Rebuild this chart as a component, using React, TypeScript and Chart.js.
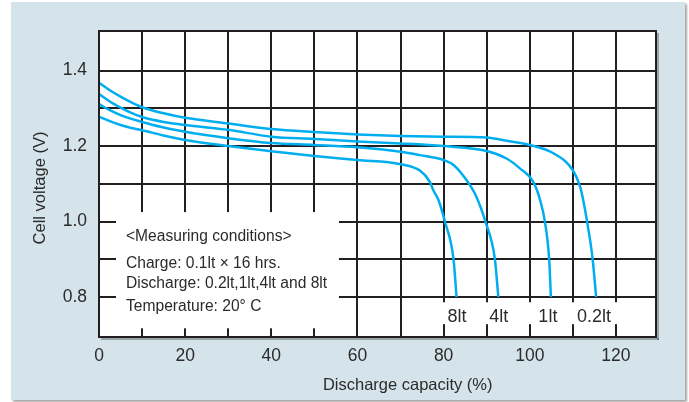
import React, { useEffect, useRef } from 'react';
import { Chart, registerables } from 'chart.js';

Chart.register(...registerables);

// ---- data ----
const seriesNames = ['0.2lt', '1lt', '4lt', '8lt'];

const x02 = [0, 2.5, 5, 7.5, 10, 15, 20, 30, 40, 50, 60, 70, 80, 90, 94.6, 100, 105.5, 110, 111.7, 112.4, 113.3, 114.6, 115.4];
const y02 = [1.368, 1.348, 1.331, 1.316, 1.303, 1.287, 1.275, 1.26, 1.245, 1.237, 1.231, 1.227, 1.225, 1.223, 1.214, 1.203, 1.181, 1.136, 1.092, 1.057, 1.0, 0.9, 0.8];

const x1 = [0, 2.5, 5, 7.5, 10, 15, 20, 30, 40, 50, 60, 70, 80, 90, 94.6, 97.7, 100.8, 102.4, 103.5, 104.5, 104.9];
const y1 = [1.338, 1.318, 1.302, 1.288, 1.277, 1.264, 1.256, 1.243, 1.225, 1.219, 1.212, 1.207, 1.2, 1.187, 1.167, 1.141, 1.105, 1.057, 1.0, 0.9, 0.8];

const x4 = [0, 2.5, 5, 7.5, 10, 15, 20, 30, 40, 50, 60, 70, 74.5, 80, 82.3, 85.3, 87.6, 89.7, 91.9, 92.7];
const y4 = [1.311, 1.295, 1.282, 1.272, 1.264, 1.249, 1.238, 1.221, 1.208, 1.203, 1.197, 1.185, 1.176, 1.163, 1.15, 1.11, 1.066, 1.0, 0.9, 0.8];

const x8 = [0, 2.5, 5, 7.5, 10, 15, 20, 30, 40, 50, 60, 70, 74.5, 76.8, 77.6, 78.8, 80.3, 82.3, 83.0];
const y8 = [1.278, 1.266, 1.256, 1.248, 1.242, 1.228, 1.216, 1.2, 1.186, 1.174, 1.163, 1.152, 1.135, 1.105, 1.083, 1.057, 1.0, 0.9, 0.8];

const seriesX = [x02, x1, x4, x8];
const seriesY = [y02, y1, y4, y8];

// curve-end labels (x position in data units)
const labelX = [114.9, 104.2, 92.8, 83.1];

const xTicks = [0, 10, 20, 30, 40, 50, 60, 70, 80, 90, 100, 110, 120];
const xTickLabels = ['0', '', '20', '', '40', '', '60', '', '80', '', '100', '', '120'];
const yTicks = [0.8, 0.9, 1.0, 1.1, 1.2, 1.3, 1.4];
const yTickLabels = ['0.8', '', '1.0', '', '1.2', '', '1.4'];

const conditionLines = [
  '<Measuring conditions>',
  'Charge: 0.1lt \u00d7 16 hrs.',
  'Discharge: 0.2lt,1lt,4lt and 8lt',
  'Temperature: 20\u00b0 C',
];

const xTitle = 'Discharge capacity (%)';
const yTitle = 'Cell voltage (V)';

// ---- styles / layout ----
const FONT = '"Liberation Sans", Arial, Helvetica, sans-serif';
const GRID = '#231f20';
const LINE = '#00aeef';
const TEXT = '#2b2b2b';

const overlayPlugin = {
  id: 'overlay',
  beforeDraw(chart: any) {
    const { ctx, chartArea: a } = chart;
    ctx.save();
    ctx.fillStyle = '#ffffff';
    ctx.fillRect(a.left, a.top, a.right - a.left, a.bottom - a.top);
    ctx.restore();
  },
  beforeDatasetsDraw(chart: any) {
    const { ctx } = chart;
    const xs = chart.scales.x;
    const ys = chart.scales.y;
    ctx.save();
    ctx.fillStyle = '#ffffff';
    // conditions box
    const bx0 = xs.getPixelForValue(3.95);
    const bx1 = xs.getPixelForValue(55.7);
    const by0 = ys.getPixelForValue(1.025);
    const by1 = ys.getPixelForValue(0.717);
    ctx.fillRect(bx0, by0, bx1 - bx0, by1 - by0);
    // label row
    const lx0 = xs.getPixelForValue(79.2);
    const lx1 = xs.getPixelForValue(120.9);
    const ly0 = ys.getPixelForValue(0.786);
    const ly1 = ys.getPixelForValue(0.728);
    ctx.fillRect(lx0, ly0, lx1 - lx0, ly1 - ly0);

    // condition text
    ctx.fillStyle = TEXT;
    ctx.textAlign = 'left';
    ctx.textBaseline = 'alphabetic';
    ctx.font = `15.6px ${FONT}`;
    const baseV = [0.949, 0.878, 0.823, 0.762];
    const tx = xs.getPixelForValue(6.27);
    conditionLines.forEach((t, i) => {
      ctx.fillText(t, tx, ys.getPixelForValue(baseV[i]));
    });

    // curve labels
    ctx.font = `18px ${FONT}`;
    ctx.textAlign = 'center';
    const lyb = ys.getPixelForValue(0.733);
    seriesNames.forEach((n, i) => {
      ctx.fillText(n, xs.getPixelForValue(labelX[i]), lyb);
    });
    ctx.restore();
  },
  afterDraw(chart: any) {
    const { ctx, chartArea: a } = chart;
    ctx.save();
    // shadow
    ctx.fillStyle = 'rgba(0,0,0,0.28)';
    ctx.fillRect(a.right + 1, a.top + 2, 2, a.bottom - a.top + 1);
    ctx.fillRect(a.left + 2, a.bottom + 1, a.right - a.left + 1, 2);
    // border
    ctx.strokeStyle = GRID;
    ctx.lineWidth = 2;
    ctx.strokeRect(a.left, a.top, a.right - a.left, a.bottom - a.top);
    // titles
    ctx.fillStyle = TEXT;
    ctx.font = `16.5px ${FONT}`;
    ctx.textAlign = 'center';
    ctx.textBaseline = 'alphabetic';
    ctx.fillText(xTitle, 407.7, 390);
    ctx.translate(45, 188);
    ctx.rotate(-Math.PI / 2);
    ctx.fillText(yTitle, 0, 0);
    ctx.restore();
  },
};

export default function App() {
  const ref = useRef<HTMLCanvasElement | null>(null);

  useEffect(() => {
    document.body.style.margin = '0';
    const canvas = ref.current;
    if (!canvas) return;
    const chart = new Chart(canvas, {
      type: 'line',
      data: {
        datasets: seriesNames.map((n, i) => ({
          label: n,
          data: seriesX[i].map((x, j) => ({ x, y: seriesY[i][j] })),
          borderColor: LINE,
          borderWidth: 2.5,
          pointRadius: 0,
          fill: false,
          cubicInterpolationMode: 'monotone' as const,
        })),
      },
      options: {
        animation: false,
        responsive: false,
        maintainAspectRatio: false,
        layout: { padding: { left: 0, top: 31, right: 33, bottom: 0 } },
        plugins: { legend: { display: false }, tooltip: { enabled: false } },
        scales: {
          x: {
            type: 'linear',
            min: 0,
            max: 129.3,
            afterBuildTicks: (s: any) => {
              s.ticks = xTicks.map((v) => ({ value: v }));
            },
            afterFit: (s: any) => {
              s.height = 65;
            },
            grid: { color: GRID, lineWidth: 2, drawTicks: false },
            border: { display: false },
            ticks: {
              autoSkip: false,
              maxRotation: 0,
              padding: 9,
              color: TEXT,
              font: { family: FONT, size: 17.5 },
              callback: (v: any) => {
                const i = xTicks.indexOf(Number(v));
                return i >= 0 ? xTickLabels[i] : '';
              },
            },
          },
          y: {
            type: 'linear',
            min: 0.694,
            max: 1.505,
            afterBuildTicks: (s: any) => {
              s.ticks = yTicks.map((v) => ({ value: v }));
            },
            afterFit: (s: any) => {
              s.width = 99;
            },
            grid: { color: GRID, lineWidth: 2, drawTicks: false },
            border: { display: false },
            ticks: {
              autoSkip: false,
              padding: 12,
              color: TEXT,
              font: { family: FONT, size: 17.5 },
              callback: (v: any) => {
                const i = yTicks.findIndex((t) => Math.abs(t - Number(v)) < 1e-6);
                return i >= 0 ? yTickLabels[i] : '';
              },
            },
          },
        },
      },
      plugins: [overlayPlugin],
    });
    return () => chart.destroy();
  }, []);

  return (
    <div style={{ position: 'fixed', left: 0, top: 0, width: 689, height: 402, background: '#ffffff' }}>
      <div
        style={{
          position: 'absolute',
          left: 11,
          top: 2,
          width: 674,
          height: 398,
          background: '#d5e3ea',
          boxShadow: '2px 2px 2px rgba(0,0,0,0.35)',
        }}
      />
      <canvas
        ref={ref}
        width={689}
        height={402}
        style={{ position: 'absolute', left: 0, top: 0, width: 689, height: 402 }}
      />
    </div>
  );
}
